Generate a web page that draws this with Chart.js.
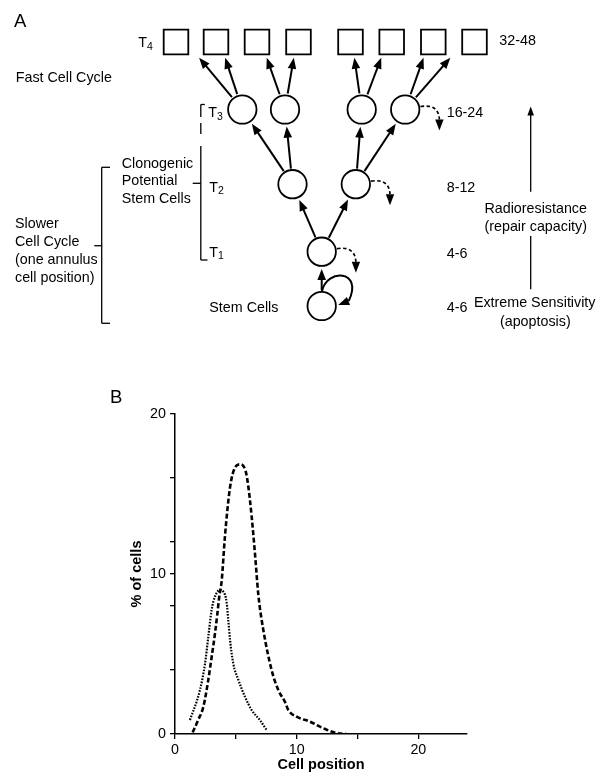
<!DOCTYPE html>
<html><head><meta charset="utf-8">
<script src="https://cdn.jsdelivr.net/npm/chart.js@4.4.1/dist/chart.umd.min.js"></script>
<style>
html,body{margin:0;padding:0;background:#fff;width:601px;height:774px;overflow:hidden}
#wrapA{position:absolute;left:0;top:0;width:601px;height:365px}
#wrapB{position:absolute;left:0;top:365px;width:601px;height:409px}
canvas{display:block}
</style></head><body>
<div id="wrapA"><canvas id="chartA" width="601" height="365"></canvas></div>
<div id="wrapB"><canvas id="chartB" width="601" height="409"></canvas></div>
<script>
// ================= Panel B data (cell position vs % of cells) =================
const dashX = [1.45, 1.92, 2.33, 2.74, 3.01, 3.29, 3.48, 3.64, 3.84, 4.11, 4.52, 4.93, 5.34, 5.8, 6.02, 6.3, 6.57, 6.85, 7.26, 7.94, 8.49, 9.04, 9.31, 10.0, 11.09, 12.19, 13.29, 14.1];
const dashY = [0.1, 0.9, 1.7, 3.4, 4.8, 6.3, 7.5, 8.6, 9.6, 12.4, 15.4, 16.65, 16.85, 16.45, 15.5, 13.6, 11.3, 8.7, 6.5, 4.0, 2.75, 2.0, 1.5, 1.08, 0.77, 0.36, 0.05, 0];
const dotX = [1.23, 2.05, 2.47, 2.74, 3.01, 3.29, 3.7, 3.97, 4.25, 4.38, 4.52, 4.79, 5.2, 5.75, 6.3, 6.98, 7.53];
const dotY = [0.87, 2.75, 4.4, 6.1, 7.75, 8.6, 9.0, 8.9, 8.2, 7.1, 5.9, 4.4, 3.4, 2.33, 1.5, 0.87, 0.25];
const xTickValues = [0, 5, 10, 15, 20];
const xLabelled = [0, 10, 20];
const yTickValues = [0, 4, 8, 10, 12, 16, 20];
const yLabelled = [0, 10, 20];
const xTitle = 'Cell position';
const yTitle = '% of cells';

// ================= Panel A data (lineage diagram, in diagram units) =================
const squareX = [176, 216, 257, 298.5, 350.5, 391.7, 433.3, 474.5];
const squareY = [42, 42, 42, 42, 42, 42, 42, 42];
const t3X = [242.3, 285, 361.7, 405.2];
const t3Y = [109.5, 109.5, 109.5, 109.5];
const t2X = [292.5, 355.8];
const t2Y = [184.2, 184.2];
const t1X = [321.7];
const t1Y = [251.7];
const stemX = [321.7];
const stemY = [306];
const squareParent = [0, 0, 1, 1, 2, 2, 3, 3];   // index into T3
const t3Parent = [0, 0, 1, 1];                   // index into T2
const t2Parent = [0, 0];                         // index into T1
const levelNames = ['T4', 'T3', 'T2', 'T1'];
const cellCounts = ['32-48', '16-24', '8-12', '4-6', '4-6'];

const FONT = '"Liberation Sans", Arial, Helvetica, sans-serif';
Chart.defaults.font.family = FONT;
Chart.defaults.color = '#000';

// ---------- helpers ----------
function head(ctx, tx, ty, ux, uy, len, half) {
  const bx = tx - ux * len, by = ty - uy * len;
  ctx.beginPath();
  ctx.moveTo(tx, ty);
  ctx.lineTo(bx - uy * half, by + ux * half);
  ctx.lineTo(bx + uy * half, by - ux * half);
  ctx.closePath();
  ctx.fill();
}
function arrow(ctx, x1, y1, x2, y2, lw, len, half) {
  const dx = x2 - x1, dy = y2 - y1, d = Math.hypot(dx, dy), ux = dx / d, uy = dy / d;
  ctx.lineWidth = lw;
  ctx.beginPath();
  ctx.moveTo(x1, y1);
  ctx.lineTo(x2 - ux * len * 0.7, y2 - uy * len * 0.7);
  ctx.stroke();
  head(ctx, x2, y2, ux, uy, len, half);
}
function txt(ctx, s, x, y, size, align, weight) {
  ctx.font = (weight || '') + ' ' + size + 'px ' + FONT;
  ctx.textAlign = align || 'left';
  ctx.textBaseline = 'alphabetic';
  ctx.fillText(s, x, y);
}

const R = 14.2;        // circle radius (px)
const SQH = 12.3;      // half side of squares (px)

const diagramPlugin = {
  id: 'diagram',
  afterDatasetsDraw(chart) {
    const ctx = chart.ctx;
    const sx = v => chart.scales.x.getPixelForValue(v);
    const sy = v => chart.scales.y.getPixelForValue(v);
    ctx.save();
    ctx.strokeStyle = '#000';
    ctx.fillStyle = '#000';
    ctx.lineCap = 'butt';

    function c2c(px, py, cx, cy) {
      const P = [sx(px), sy(py)], C = [sx(cx), sy(cy)];
      const dx = C[0] - P[0], dy = C[1] - P[1], d = Math.hypot(dx, dy), ux = dx / d, uy = dy / d;
      arrow(ctx, P[0] + ux * (R + 1.5), P[1] + uy * (R + 1.5), C[0] - ux * (R + 3), C[1] - uy * (R + 3), 2, 11, 4.3);
    }
    function c2s(px, py, qx, qy) {
      const P = [sx(px), sy(py)];
      const A = [sx(qx + 0.15 * (px - qx)), sy(qy)];
      const dx = A[0] - P[0], dy = A[1] - P[1], d = Math.hypot(dx, dy), ux = dx / d, uy = dy / d;
      const yEnd = sy(qy) + SQH + 3.5;
      const t = (yEnd - P[1]) / uy;
      arrow(ctx, P[0] + ux * (R + 2), P[1] + uy * (R + 2), P[0] + ux * t, P[1] + uy * t, 2, 11, 4.3);
    }
    squareX.forEach((qx, i) => { const p = squareParent[i]; c2s(t3X[p], t3Y[p], qx, squareY[i]); });
    t3X.forEach((x, i) => { const p = t3Parent[i]; c2c(t2X[p], t2Y[p], x, t3Y[i]); });
    t2X.forEach((x, i) => { const p = t2Parent[i]; c2c(t1X[p], t1Y[p], x, t2Y[i]); });
    c2c(stemX[0], stemY[0], t1X[0], t1Y[0]);

    function exitArrow(cx0, cy0) {
      const cx = sx(cx0), cy = sy(cy0);
      ctx.lineWidth = 1.7;
      ctx.setLineDash([3.5, 2.5]);
      ctx.beginPath();
      ctx.moveTo(cx + R + 1, cy - 3);
      ctx.quadraticCurveTo(cx + R + 19, cy - 6, cx + R + 20, cy + 10);
      ctx.stroke();
      ctx.setLineDash([]);
      head(ctx, cx + R + 20, cy + 21, 0, 1, 11, 4.2);
    }
    exitArrow(t3X[3], t3Y[3]);
    exitArrow(t2X[1], t2Y[1]);
    exitArrow(t1X[0], t1Y[0]);

    {
      const cx = sx(stemX[0]), cy = sy(stemY[0]);
      ctx.lineWidth = 2;
      ctx.beginPath();
      ctx.moveTo(cx + 0.3, cy - R - 0.5);
      ctx.bezierCurveTo(cx + 5, cy - 38, cx + 42, cy - 36, cx + 27, cy - 5);
      ctx.stroke();
      const ex = cx + 27, ey = cy - 5, tx = cx + 16.5, ty = cy - 1;
      const d = Math.hypot(tx - ex, ty - ey);
      head(ctx, tx, ty, (tx - ex) / d, (ty - ey) / d, 11, 4.3);
    }

    ctx.lineWidth = 1.3;
    function seg(x1, y1, x2, y2) { ctx.beginPath(); ctx.moveTo(sx(x1), sy(y1)); ctx.lineTo(sx(x2), sy(y2)); ctx.stroke(); }
    seg(204.8, 104.5, 200.8, 104.5);
    seg(200.8, 104.5, 200.8, 117);
    seg(200.8, 123, 200.8, 134);
    seg(200.8, 146, 200.8, 260);
    seg(200.8, 260, 207.5, 260);
    seg(192.7, 183.3, 200.8, 183.3);
    seg(110, 167.3, 101.7, 167.3);
    seg(101.7, 167.3, 101.7, 323.3);
    seg(101.7, 323.3, 110, 323.3);
    seg(94.3, 245.7, 101.7, 245.7);

    seg(530.7, 289.3, 530.7, 236);
    seg(530.7, 191.7, 530.7, 114);
    head(ctx, sx(530.7), sy(106.5), 0, -1, 9, 3.3);

    const F = 14.3;
    txt(ctx, 'A', sx(14), sy(27.3), 18.5);
    const tPos = [[138.3, 47.3], [208.3, 117.3], [209.3, 191.7], [209.3, 256.7]];
    levelNames.forEach((name, i) => {
      const [x, y] = tPos[i];
      txt(ctx, name[0], sx(x), sy(y), F);
      txt(ctx, name.slice(1), sx(x + 8.8), sy(y + 2.2), 10.5);
    });
    const cPos = [[499.3, 45], [446.7, 116.7], [446.7, 192.3], [446.7, 258.3], [446.7, 312.3]];
    cellCounts.forEach((s, i) => txt(ctx, s, sx(cPos[i][0]), sy(cPos[i][1]), F));
    txt(ctx, 'Fast Cell Cycle', sx(15.7), sy(82), F);
    txt(ctx, 'Clonogenic', sx(121.7), sy(167.7), F);
    txt(ctx, 'Potential', sx(121.7), sy(185.2), F);
    txt(ctx, 'Stem Cells', sx(121.7), sy(202.7), F);
    txt(ctx, 'Slower', sx(15), sy(228.3), F);
    txt(ctx, 'Cell Cycle', sx(15), sy(246), F);
    txt(ctx, '(one annulus', sx(15), sy(264), F);
    txt(ctx, 'cell position)', sx(15), sy(281.7), F);
    txt(ctx, 'Stem Cells', sx(209.3), sy(312.3), F);
    txt(ctx, 'Radioresistance', sx(535.7), sy(212.7), F, 'center');
    txt(ctx, '(repair capacity)', sx(535.7), sy(230.7), F, 'center');
    txt(ctx, 'Extreme Sensitivity', sx(534.7), sy(307.3), F, 'center');
    txt(ctx, '(apoptosis)', sx(535.3), sy(325.7), F, 'center');
    ctx.restore();
  }
};

new Chart(document.getElementById('chartA'), {
  type: 'scatter',
  data: {
    datasets: [
      { label: 'T4 cells', data: squareX.map((x, i) => ({ x, y: squareY[i] })), pointStyle: 'rect',
        pointRadius: SQH / Math.SQRT1_2, pointBorderWidth: 1.8, pointBorderColor: '#000', pointBackgroundColor: '#fff' },
      { label: 'T3 cells', data: t3X.map((x, i) => ({ x, y: t3Y[i] })), pointStyle: 'circle',
        pointRadius: R, pointBorderWidth: 1.8, pointBorderColor: '#000', pointBackgroundColor: '#fff' },
      { label: 'T2 cells', data: t2X.map((x, i) => ({ x, y: t2Y[i] })), pointStyle: 'circle',
        pointRadius: R, pointBorderWidth: 1.8, pointBorderColor: '#000', pointBackgroundColor: '#fff' },
      { label: 'T1 cells', data: t1X.map((x, i) => ({ x, y: t1Y[i] })), pointStyle: 'circle',
        pointRadius: R, pointBorderWidth: 1.8, pointBorderColor: '#000', pointBackgroundColor: '#fff' },
      { label: 'Stem cells', data: stemX.map((x, i) => ({ x, y: stemY[i] })), pointStyle: 'circle',
        pointRadius: R, pointBorderWidth: 1.8, pointBorderColor: '#000', pointBackgroundColor: '#fff' }
    ]
  },
  options: {
    responsive: false, animation: false, devicePixelRatio: 1, events: [],
    layout: { padding: 0, autoPadding: false },
    plugins: { legend: { display: false }, tooltip: { enabled: false } },
    scales: {
      x: { type: 'linear', min: 0, max: 601, display: false },
      y: { type: 'linear', min: 0, max: 365, reverse: true, display: false }
    },
    clip: false
  },
  plugins: [diagramPlugin]
});

const panelLabelB = {
  id: 'panelLabelB',
  afterDraw(chart) {
    const ctx = chart.ctx;
    ctx.save();
    ctx.fillStyle = '#000';
    txt(ctx, 'B', 110, 38.3, 18.5);
    ctx.restore();
  }
};

new Chart(document.getElementById('chartB'), {
  type: 'line',
  data: {
    datasets: [
      { label: 'dashed', data: dashX.map((x, i) => ({ x, y: dashY[i] })), borderColor: '#000', borderWidth: 2.6,
        borderDash: [5, 2.5], pointRadius: 0, cubicInterpolationMode: 'monotone', fill: false },
      { label: 'dotted', data: dotX.map((x, i) => ({ x, y: dotY[i] })), borderColor: '#000', borderWidth: 2.2,
        borderDash: [1.6, 1.4], pointRadius: 0, cubicInterpolationMode: 'monotone', fill: false }
    ]
  },
  options: {
    responsive: false, animation: false, devicePixelRatio: 1, events: [],
    layout: { padding: { left: 120, right: 134, top: 49, bottom: 0 }, autoPadding: false },
    plugins: { legend: { display: false }, tooltip: { enabled: false } },
    scales: {
      x: {
        type: 'linear', min: 0, max: 24,
        afterBuildTicks: s => { s.ticks = xTickValues.map(v => ({ value: v })); },
        afterFit: s => { s.height = 40; },
        ticks: { callback: v => xLabelled.includes(v) ? String(v) : '', font: { size: 14.3 }, color: '#000',
                 padding: 2, maxRotation: 0, autoSkip: false },
        grid: { drawOnChartArea: false, drawTicks: true, tickLength: 5, color: '#000', lineWidth: 1.3 },
        border: { display: true, color: '#000', width: 1.5 },
        title: { display: true, text: xTitle, font: { size: 14.5, weight: 'bold' }, color: '#000', padding: { top: 0, bottom: 0 } }
      },
      y: {
        type: 'linear', min: 0, max: 20,
        afterBuildTicks: s => { s.ticks = yTickValues.map(v => ({ value: v })); },
        afterFit: s => { s.width = 55; },
        ticks: { callback: v => yLabelled.includes(v) ? String(v) : '', font: { size: 14.3 }, color: '#000',
                 padding: 4, autoSkip: false },
        grid: { drawOnChartArea: false, drawTicks: true, tickLength: 5, color: '#000', lineWidth: 1.3 },
        border: { display: true, color: '#000', width: 1.5 },
        title: { display: true, text: yTitle, font: { size: 14.5, weight: 'bold' }, color: '#000', padding: { top: 8, bottom: 0 } }
      }
    }
  },
  plugins: [panelLabelB]
});
</script>
</body></html>
